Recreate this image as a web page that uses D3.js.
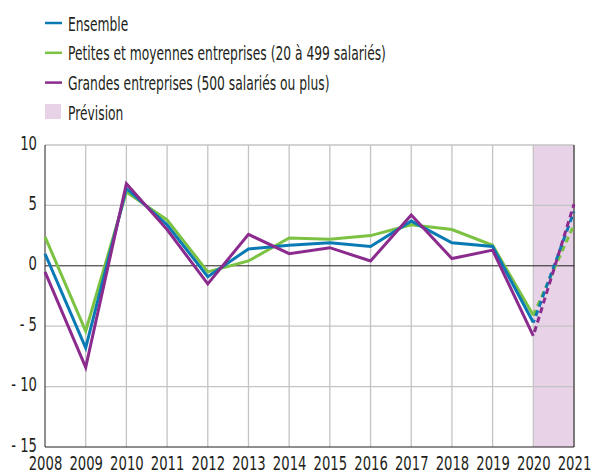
<!DOCTYPE html>
<html><head><meta charset="utf-8">
<script src="https://cdn.jsdelivr.net/npm/d3@7/dist/d3.min.js"></script>
<style>
body{margin:0;background:#fff;}
text{font-family:"DejaVu Sans",sans-serif;fill:#231f20;}
</style></head>
<body><svg id="c" width="592" height="473"></svg>
<script>
const years = [2008,2009,2010,2011,2012,2013,2014,2015,2016,2017,2018,2019,2020,2021];
const ensemble = [1.0,-6.8,6.4,3.4,-0.9,1.4,1.7,1.9,1.6,3.7,1.9,1.6,-4.7,4.5];
const pme = [2.4,-5.4,6.1,3.8,-0.5,0.4,2.3,2.2,2.5,3.4,3.0,1.7,-4.1,3.4];
const ge = [-0.5,-8.4,6.8,3.0,-1.5,2.6,1.0,1.5,0.4,4.2,0.6,1.3,-5.8,5.1];
const yTicks = [10,5,0,-5,-10,-15];
const forecastStart = 2020, forecastEnd = 2021;
const seriesNames = ["Ensemble","Petites et moyennes entreprises (20 à 499 salariés)","Grandes entreprises (500 salariés ou plus)"];
const forecastLabel = "Prévision";
const colors = ["#0a7ab5","#7cc242","#8b2b8e"];
const shade = "#e8d2e8";

const svg = d3.select("#c");
const L=45,R=574,T=145,B=447;
const x = d3.scaleLinear().domain([2008,2021]).range([L,R]);
const y = d3.scaleLinear().domain([-15,10]).range([B,T]);

function condense(sel,k){
  sel.each(function(){
    const t=d3.select(this);
    const x0=+t.attr("x")||0, y0=+t.attr("y")||0;
    t.attr("transform",`translate(${x0},${y0}) scale(${k},1)`).attr("x",0).attr("y",0);
  });
}

svg.append("rect").attr("x",x(forecastStart)).attr("y",T).attr("width",x(forecastEnd)-x(forecastStart)).attr("height",B-T).attr("fill",shade);

svg.append("g").selectAll("line").data(years.slice(1)).join("line")
 .attr("x1",d=>x(d)).attr("x2",d=>x(d)).attr("y1",T).attr("y2",B).attr("stroke","#c4c4c4").attr("stroke-width",1.3);
svg.append("g").selectAll("line").data(yTicks.filter(d=>d!==0&&d!==-15)).join("line")
 .attr("x1",L).attr("x2",R).attr("y1",d=>y(d)).attr("y2",d=>y(d)).attr("stroke","#c4c4c4").attr("stroke-width",1.3);
svg.append("line").attr("x1",L).attr("x2",R).attr("y1",y(0)).attr("y2",y(0)).attr("stroke","#231f20").attr("stroke-width",1);
svg.append("line").attr("x1",L).attr("x2",L).attr("y1",T).attr("y2",B).attr("stroke","#231f20").attr("stroke-width",1);
svg.append("line").attr("x1",L).attr("x2",R).attr("y1",B).attr("y2",B).attr("stroke","#231f20").attr("stroke-width",1);
svg.append("line").attr("x1",R).attr("x2",R).attr("y1",T).attr("y2",B).attr("stroke","#231f20").attr("stroke-width",1);

const yAxis = d3.axisLeft(y).tickValues(yTicks).tickSize(0).tickPadding(8)
  .tickFormat(d=> d<0 ? "- "+Math.abs(d) : String(d));
const gy = svg.append("g").attr("transform",`translate(${L},0)`).call(yAxis);
gy.select(".domain").remove();
gy.selectAll("text").attr("font-size",20).attr("dy",null).attr("y",4).style("font-family","'DejaVu Sans',sans-serif").attr("fill","#231f20");
condense(gy.selectAll("text"),0.66);

const xAxis = d3.axisBottom(x).tickValues(years).tickSize(0).tickPadding(0).tickFormat(d3.format("d"));
const gx = svg.append("g").attr("transform",`translate(0,${B})`).call(xAxis);
gx.select(".domain").remove();
gx.selectAll("text").attr("font-size",20).attr("y",22.5).attr("dy",null).style("font-family","'DejaVu Sans',sans-serif").attr("fill","#231f20");
condense(gx.selectAll("text"),0.66);

const line = d3.line().x(d=>x(d[0])).y(d=>y(d[1]));
const all = [ensemble,pme,ge];
const drawOrder = [1,0,2];
drawOrder.forEach(i=>{
  const pts = years.map((yr,j)=>[yr,all[i][j]]);
  const hist = pts.filter(p=>p[0]<=forecastStart);
  svg.append("path").attr("d",line(hist)).attr("fill","none").attr("stroke",colors[i]).attr("stroke-width",3);
});
drawOrder.forEach((i,k)=>{
  const pts = years.map((yr,j)=>[yr,all[i][j]]);
  const fc = pts.filter(p=>p[0]>=forecastStart);
  svg.append("path").attr("d",line(fc)).attr("fill","none").attr("stroke",colors[i]).attr("stroke-width",3)
    .attr("stroke-dasharray","6,4").attr("stroke-dashoffset",k*3);
});

const lg = svg.append("g");
seriesNames.forEach((n,i)=>{
  const yy = 23 + i*29.8;
  lg.append("line").attr("x1",45).attr("x2",62).attr("y1",yy).attr("y2",yy).attr("stroke",colors[i]).attr("stroke-width",2.5);
  lg.append("text").attr("x",68).attr("y",yy+7.5).attr("font-size",20).text(n);
});
lg.append("rect").attr("x",45).attr("y",104).attr("width",16).attr("height",15).attr("fill",shade);
lg.append("text").attr("x",68).attr("y",119.5).attr("font-size",20).text(forecastLabel);
condense(lg.selectAll("text"),0.615);
</script></body></html>
